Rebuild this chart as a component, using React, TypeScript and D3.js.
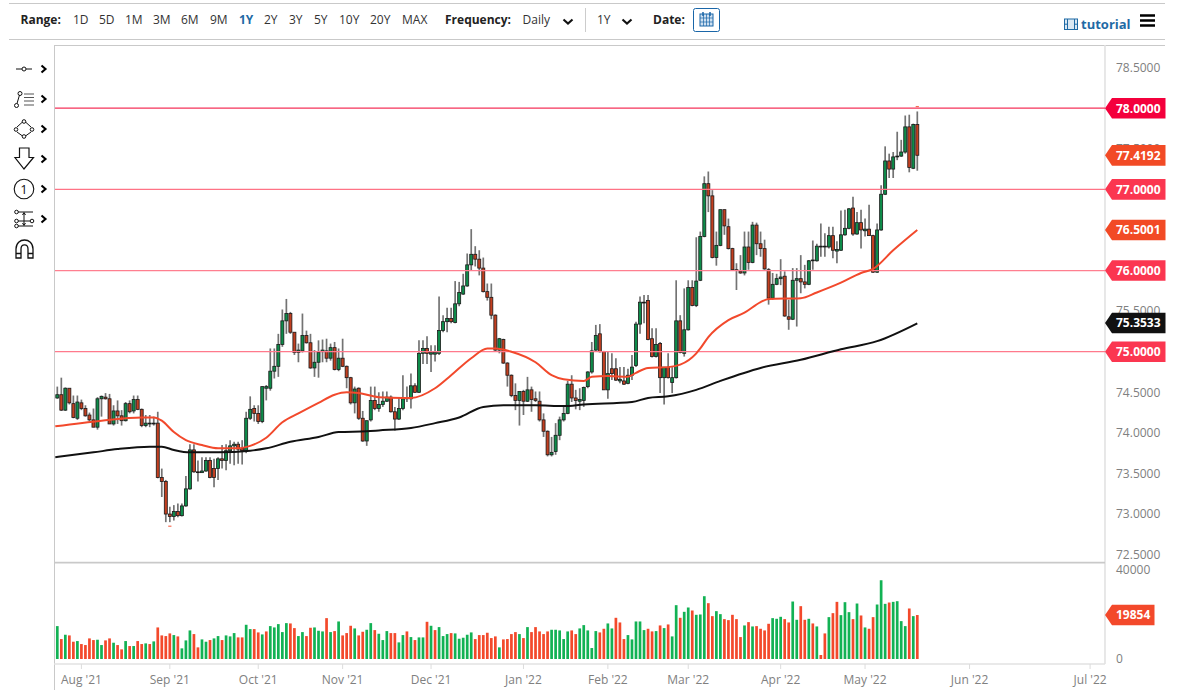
import * as d3 from 'd3'

const opens = [
  74.43,74.47,74.28,74.55,74.36,74.18,74.37,74.30,74.22,74.16,
  74.07,74.42,74.44,74.42,74.11,74.27,74.21,74.15,74.36,74.27,
  74.41,74.29,74.09,74.11,74.11,74.12,73.45,73.40,73.00,72.97,
  73.03,72.98,73.10,73.31,73.79,73.52,73.51,73.53,73.66,73.56,
  73.56,73.68,73.66,73.78,73.84,73.86,73.81,73.77,74.18,74.30,
  74.24,74.14,74.55,74.55,74.76,74.82,75.09,75.38,75.47,75.24,
  74.99,75.01,75.20,75.11,74.80,74.87,75.00,75.01,74.92,75.05,
  74.78,74.92,74.82,74.68,74.37,74.55,74.18,73.90,74.16,74.40,
  74.30,74.35,74.39,74.44,74.26,74.17,74.30,74.42,74.42,74.58,
  74.50,74.98,75.04,74.97,74.97,74.98,75.26,75.37,75.41,75.36,
  75.59,75.71,75.81,76.07,76.20,76.14,76.03,75.74,75.67,75.45,
  75.02,75.15,74.86,74.71,74.46,74.40,74.51,74.39,74.53,74.42,
  74.39,74.16,74.02,73.73,73.77,73.97,74.16,74.24,74.60,74.43,
  74.39,74.40,74.57,74.75,75.02,75.22,75.00,74.53,74.79,74.79,
  74.64,74.64,74.61,74.71,74.83,75.34,75.60,75.63,75.16,74.94,
  75.10,74.68,74.81,74.62,74.68,75.38,74.98,75.27,75.79,75.57,
  75.88,76.42,77.07,76.92,76.16,76.31,76.75,76.54,76.27,76.01,
  75.99,75.97,76.29,76.10,76.56,76.33,76.27,76.01,75.66,75.83,
  75.90,75.93,75.43,75.40,75.88,75.90,75.86,75.83,76.12,76.12,
  76.29,76.29,76.29,76.43,76.24,76.25,76.44,76.52,76.77,76.45,
  76.59,76.49,76.51,76.43,75.98,76.50,76.94,77.35,77.25,77.40,
  77.41,77.46,77.77,77.26,77.80,
]

const closes = [
  74.47,74.28,74.55,74.37,74.19,74.38,74.30,74.21,74.16,74.07,
  74.42,74.45,74.42,74.11,74.27,74.21,74.15,74.36,74.26,74.41,
  74.29,74.09,74.12,74.12,74.12,73.45,73.40,73.00,72.97,73.03,
  72.98,73.10,73.31,73.79,73.52,73.51,73.53,73.66,73.45,73.45,
  73.68,73.66,73.78,73.84,73.86,73.80,73.78,74.18,74.29,74.24,
  74.14,74.57,74.57,74.76,74.82,75.09,75.38,75.47,75.24,74.99,
  75.02,75.20,75.11,74.80,74.87,74.99,75.02,74.92,75.05,74.78,
  74.92,74.82,74.68,74.37,74.54,74.18,73.90,74.15,74.40,74.30,
  74.35,74.39,74.44,74.26,74.17,74.30,74.42,74.43,74.58,74.50,
  74.98,75.04,74.98,74.99,74.99,75.26,75.37,75.41,75.37,75.59,
  75.73,75.81,76.07,76.20,76.14,76.03,75.74,75.67,75.45,75.02,
  75.16,74.86,74.71,74.46,74.40,74.51,74.39,74.53,74.41,74.40,
  74.16,74.02,73.73,73.76,73.97,74.16,74.24,74.60,74.43,74.40,
  74.41,74.56,74.75,75.01,75.20,75.00,74.53,74.73,74.73,74.65,
  74.66,74.60,74.71,74.81,75.34,75.61,75.61,75.15,74.94,75.09,
  74.68,74.81,74.68,74.68,75.38,74.99,75.27,75.79,75.57,75.87,
  76.42,77.07,76.92,76.16,76.31,76.75,76.55,76.27,76.01,76.00,
  75.97,76.29,76.10,76.56,76.33,76.27,76.02,75.66,75.83,75.90,
  75.92,75.44,75.40,75.88,75.90,75.86,75.83,76.12,76.13,76.30,
  76.30,76.30,76.43,76.25,76.26,76.44,76.52,76.76,76.45,76.59,
  76.50,76.51,76.43,75.98,76.50,76.94,77.35,77.25,77.40,77.41,
  77.46,77.77,77.27,77.80,77.42,
]

const highs = [
  74.57,74.68,74.56,74.55,74.46,74.46,74.41,74.34,74.25,74.30,
  74.44,74.46,74.49,74.48,74.34,74.40,74.28,74.38,74.40,74.46,
  74.46,74.30,74.22,74.22,74.20,74.26,73.56,73.42,73.09,73.11,
  73.13,73.13,73.47,73.86,73.86,73.66,73.70,73.70,73.70,73.68,
  73.70,73.85,73.86,73.91,73.89,73.89,73.91,74.26,74.45,74.34,
  74.34,74.57,74.59,75.04,75.04,75.22,75.52,75.65,75.49,75.24,
  75.10,75.47,75.26,75.22,75.02,75.14,75.15,75.16,75.10,75.12,
  75.04,75.16,74.83,74.69,74.57,74.56,74.27,74.15,74.57,74.57,
  74.50,74.51,74.51,74.46,74.32,74.44,74.71,74.57,74.73,74.61,
  75.14,75.14,75.19,75.08,75.08,75.68,75.45,75.54,75.54,75.87,
  75.86,75.96,76.21,76.51,76.30,76.25,76.16,75.84,75.84,75.46,
  75.17,75.16,74.87,74.72,74.61,74.51,74.53,74.69,74.57,74.51,
  74.51,74.24,74.03,73.95,74.12,74.20,74.34,74.64,74.71,74.53,
  74.55,74.57,74.76,75.12,75.33,75.34,75.01,75.00,74.98,74.92,
  74.81,74.81,74.79,74.96,75.37,75.68,75.70,75.70,75.29,75.29,
  75.12,74.81,74.98,74.81,75.88,75.45,75.78,75.88,75.88,76.41,
  76.48,77.16,77.22,76.99,76.48,76.75,76.75,76.64,76.28,76.09,
  76.19,76.48,76.48,76.60,76.59,76.48,76.38,76.03,75.97,75.96,
  76.14,75.99,75.64,76.03,76.03,76.19,76.07,76.13,76.37,76.33,
  76.58,76.46,76.54,76.54,76.36,76.74,76.75,76.77,76.91,76.72,
  76.75,76.64,76.81,76.44,76.58,77.05,77.53,77.44,77.46,77.71,
  77.61,77.91,77.92,77.81,77.96,
]

const lows = [
  74.42,74.27,74.27,74.35,74.18,74.16,74.28,74.20,74.14,74.07,
  74.04,74.20,74.41,74.11,74.09,74.11,74.09,74.14,74.24,74.24,
  74.28,74.07,74.07,74.07,74.09,73.44,73.21,72.90,72.90,72.92,
  72.96,72.97,73.09,73.30,73.51,73.40,73.51,73.52,73.44,73.33,
  73.42,73.56,73.54,73.62,73.60,73.62,73.61,73.75,74.16,74.14,
  74.11,74.12,74.40,74.52,74.67,74.69,75.06,75.22,75.22,74.96,
  74.87,74.99,75.10,74.79,74.69,74.68,74.87,74.87,74.89,74.77,
  74.76,74.81,74.55,74.35,74.24,74.16,73.89,73.84,74.14,74.28,
  74.26,74.32,74.38,74.25,74.03,74.16,74.28,74.38,74.30,74.49,
  74.49,74.85,74.85,74.75,74.88,74.96,75.24,75.24,75.35,75.35,
  75.56,75.70,75.80,76.00,76.05,75.94,75.73,75.63,75.40,75.00,
  74.98,74.85,74.57,74.44,74.28,74.09,74.22,74.38,74.26,74.38,
  74.14,73.95,73.71,73.71,73.73,73.91,74.14,74.23,74.38,74.29,
  74.28,74.32,74.55,74.73,75.01,74.99,74.53,74.42,74.65,74.64,
  74.61,74.59,74.60,74.65,74.81,75.22,75.35,75.14,74.93,74.93,
  74.49,74.35,74.67,74.49,74.67,74.98,74.94,75.26,75.56,75.55,
  75.87,76.41,76.72,76.15,76.06,76.30,76.44,76.26,76.01,75.76,
  75.96,75.94,76.01,76.09,76.19,76.17,76.01,75.58,75.64,75.82,
  75.82,75.43,75.27,75.39,75.31,75.72,75.78,75.82,76.01,76.11,
  76.17,76.17,76.27,76.15,76.09,76.24,76.43,76.51,76.43,76.44,
  76.27,76.42,76.43,75.97,75.97,76.49,76.93,77.14,77.14,77.36,
  77.40,77.44,77.21,77.25,77.23,
]

const volumes = [
  14850,9000,10950,10650,7800,8100,6750,6300,9300,8550,
  8700,6300,8400,9300,7350,6300,4350,8100,5850,5850,
  8100,6750,7050,6750,7950,14250,10650,10350,11550,10800,
  10200,4800,8400,12900,11250,5250,8850,7800,8550,9300,
  10350,8550,10650,10200,11700,9750,9750,15450,13500,13500,
  12000,11100,12450,14850,14250,15750,12150,16200,16050,13950,
  10350,12150,10350,14100,14250,12750,12450,18450,12150,12600,
  16950,10650,11700,15000,13800,10650,12300,13200,16200,13050,
  11400,8550,12600,11700,11700,7500,10800,12450,9900,8550,
  9750,9750,16800,15000,13050,14400,10350,11250,11700,11550,
  9150,9600,10950,12000,9000,10800,10800,11850,9450,10200,
  5250,8850,9000,11250,12150,11250,9450,14400,12150,14400,
  12450,11250,12450,13200,13200,12900,9000,12450,12900,11250,
  13800,15300,12900,4950,12600,12000,13650,16050,13800,18600,
  16500,9000,10800,8850,16950,16950,13050,13650,12450,12600,
  15150,13950,15600,10200,24300,18600,21300,23250,21900,19950,
  20100,28350,25200,19350,21600,20250,18000,17550,19950,18000,
  9900,15150,16650,14700,14850,13650,12900,15900,18450,18150,
  19050,18000,16500,25950,17700,23850,17700,18150,16050,14700,
  1800,11550,18900,20700,25800,19800,25650,21150,18000,25050,
  19650,14250,13650,18900,24600,35550,24900,25500,25800,26100,
  17100,14850,22800,19350,19854,
]

// g = green bar, r = red bar, ten days per row
const volumeDirs = [
  'grgrrgrrrr','ggrrgrrgrg','rrgrgrrrrg','rgggrrggrg','grgggrrggr',
  'rgrgggggrr','ggrrgggrgr','grrrgrrggr','gggrrggrgr','ggrgrgggrg',
  'ggggrrrrrr','grrrrgrgrr','rrrgggggrr','gggggrrggr','rrgggggrrg',
  'rgrggrggrg','ggrrggrrrr','rgrgrrrrgg','grrggrrgrg','rrgrrgggrg',
  'rgrrgggrgg','ggrgr',
].join('').split('')

// 50 and 200 day averages, read at the turning points of each line
const ma50Index = [-0.5,11,21,24,26,29,32,36,40,45,48,52,56,60,65,69,72,75,80,86,88,94,98,103,107,109,113,119,123,126,131,133,137,142,144,147,152,155,159,160,162,167,171,175,177,185,189,195,200,203,208,214]
const ma50Values = [74.08,74.15,74.19,74.19,74.15,74.01,73.91,73.85,73.81,73.81,73.84,73.94,74.13,74.24,74.37,74.47,74.50,74.49,74.44,74.43,74.43,74.55,74.71,74.92,75.04,75.04,75.00,74.87,74.71,74.66,74.64,74.69,74.70,74.69,74.74,74.80,74.81,74.84,74.98,75.04,75.18,75.39,75.48,75.61,75.65,75.66,75.73,75.85,75.97,76.02,76.25,76.50]
const ma200Index = [-0.5,9,15,23,26,29,33,40,48,52,58,65,70,77,80,88,94,100,106,111,119,126,131,143,147,152,159,165,175,185,195,204,214]
const ma200Values = [73.70,73.76,73.80,73.83,73.83,73.79,73.76,73.76,73.78,73.81,73.89,73.95,74.01,74.02,74.03,74.06,74.12,74.19,74.32,74.34,74.34,74.33,74.35,74.38,74.43,74.45,74.53,74.64,74.80,74.90,75.03,75.13,75.35]

const priceTicks = [72.5,73,73.5,74,74.5,75,75.5,76,76.5,77,77.5,78,78.5]
const volumeTicks = [0,40000]
const monthLabels = ["Aug '21","Sep '21","Oct '21","Nov '21","Dec '21","Jan '22","Feb '22","Mar '22","Apr '22","May '22","Jun '22","Jul '22"]
const monthIndex = [6,28,50,71,93,116,137,157,180,201,227,257]

const levels = [78,77,76,75]
const levelColors = ['#f5335a','#ff7386','#ff7f90','#ff7a8c']
const tagValues = [78,77.4192,77,76.5001,76,75.3533,75]
const tagLabels = ['78.0000','77.4192','77.0000','76.5001','76.0000','75.3533','75.0000']
const tagColors = ['#f4003c','#f24a25','#fb3650','#f24a25','#fb3650','#111111','#fb3650']
const lastVolume = 19854

// stray marks left by the source chart below Sep and above the last candle
const markIndex = [28,214]
const markValues = [72.85,78.02]

const rangeLabels = ['1D','5D','1M','3M','6M','9M','1Y','2Y','3Y','5Y','10Y','20Y','MAX']
const rangeX = [73,99,125,153,181,210,239,264,289,314,339,370,402]

const FONT = '"Open Sans", "Noto Sans", sans-serif'
const UP = '#0e8c4a'
const DOWN = '#c23f20'
const VOL_UP = '#12b254'
const VOL_DOWN = '#f3492b'
const GRID = '#c9c9c9'

const x = d3.scaleLinear().domain([0, 214]).range([57.3, 917.3])
const y = d3.scaleLinear().domain([75, 78]).range([351.7, 108.2])
const yVol = d3.scaleLinear().domain([0, 40000]).range([659, 570.4])

const lineFor = (idx: number[], values: number[]) =>
  d3.line<number>()
    .x((_, i) => x(idx[i]))
    .y(d => y(d))
    .curve(d3.curveMonotoneX)(values) || ''

function Chevron({ cx, cy }: { cx: number; cy: number }) {
  return (
    <polyline
      points={`${cx - 2.5},${cy - 3.5} ${cx + 1.5},${cy} ${cx - 2.5},${cy + 3.5}`}
      fill="none"
      stroke="#000"
      strokeWidth={2.1}
    />
  )
}

function Down({ cx, cy }: { cx: number; cy: number }) {
  return (
    <polyline
      points={`${cx - 4.5},${cy - 2} ${cx},${cy + 2} ${cx + 4.5},${cy - 2}`}
      fill="none"
      stroke="#111"
      strokeWidth={2.1}
    />
  )
}

function Toolbar() {
  return (
    <g fontFamily={FONT} fontSize={12} fill="#333">
      <line x1={9} x2={1165} y1={3.5} y2={3.5} stroke={GRID} />
      <line x1={9} x2={1165} y1={39.5} y2={39.5} stroke={GRID} />
      <text x={20.5} y={24} fontWeight={700} fill="#222">Range:</text>
      {rangeLabels.map((d, i) => (
        <text
          key={d}
          x={rangeX[i]}
          y={24}
          fontWeight={d === '1Y' ? 700 : 400}
          fill={d === '1Y' ? '#1f6aa5' : '#333'}
        >{d}</text>
      ))}
      <text x={445} y={24} fontWeight={700} fill="#222">Frequency:</text>
      <text x={522.5} y={24}>Daily</text>
      <Down cx={568} cy={21.5} />
      <line x1={585.5} x2={585.5} y1={8} y2={32} stroke="#ccc" />
      <text x={597} y={24}>1Y</text>
      <Down cx={627} cy={21.5} />
      <text x={653} y={24} fontWeight={700} fill="#222">Date:</text>
      <rect x={693.5} y={8.5} width={26} height={23} rx={2} fill="#fff" stroke="#1a66a8" />
      <g stroke="#1a66a8" fill="none">
        <rect x={700} y={14} width={13} height={12} fill="#cfe0f0" />
        <path d="M700 18H713M700 22H713M703.5 14V26M706.5 14V26M709.5 14V26" strokeWidth={0.7} />
        <path d="M703 12V16M710 12V16" strokeWidth={1.5} />
      </g>
      <g stroke="#1f6aa5" fill="#dbe8f3" strokeWidth={1}>
        <rect x={1064.5} y={19} width={13} height={10.5} />
        <path d="M1067.5 19V29.5M1074.5 19V29.5M1064.5 24.2H1067.5M1074.5 24.2H1077.5" fill="none" />
      </g>
      <text x={1081} y={29} fontWeight={700} fontSize={13} fill="#1f6aa5">tutorial</text>
      <path d="M1140 15.5H1155M1140 20.5H1155M1140 25.5H1155" stroke="#000" strokeWidth={2.4} />
    </g>
  )
}

function DrawingTools() {
  return (
    <g fill="none" stroke="#111" strokeWidth={1}>
      <path d="M16 69H22M26 69H32" />
      <circle cx={24} cy={69} r={2} />
      <Chevron cx={44} cy={69} />

      <path d="M17 103.5L19.5 95" />
      <circle cx={16.5} cy={105.5} r={2} />
      <circle cx={20} cy={93.5} r={2} />
      <path d="M24 94H34M24 97.5H34M24 101H34M24 105H34" stroke="#555" strokeWidth={1.2} />
      <Chevron cx={44} cy={99} />

      <path d="M22.5 122L17 127M17 132L22.5 136M25.5 136L31 132M31 127L25.5 122" />
      <circle cx={24} cy={121.5} r={1.8} />
      <circle cx={16} cy={129.5} r={1.8} />
      <circle cx={32} cy={129.5} r={1.8} />
      <circle cx={24} cy={136.5} r={1.8} />
      <Chevron cx={44} cy={129} />

      <path d="M19.5 148H29V157.5H33.5L24 169L15 157.5H19.5Z" strokeWidth={1.2} />
      <Chevron cx={44} cy={159} />

      <circle cx={24} cy={189} r={9.8} strokeWidth={1.1} />
      <text x={24} y={193.5} textAnchor="middle" fontFamily={FONT} fontSize={13} fill="#111" stroke="none">1</text>
      <Chevron cx={44} cy={189} />

      <path d="M18 212H33M18 226H33M18 221H30M24 213V225" />
      <path d="M22.5 215L24 212.5L25.5 215M22.5 223L24 225.5L25.5 223" />
      <circle cx={16.5} cy={212} r={1.8} />
      <circle cx={16.5} cy={221} r={1.8} />
      <circle cx={16.5} cy={226} r={1.8} />
      <circle cx={32} cy={221} r={1.8} />
      <Chevron cx={44} cy={219} />

      <path d="M16 258V249C16 237 33 237 33 249V258H28V249C28 243.5 21 243.5 21 249V258Z" strokeWidth={1.3} />
      <path d="M16 253.5H21M28 253.5H33" strokeWidth={1.3} />
    </g>
  )
}

export default function App() {
  return (
    <svg
      width={1178}
      height={700}
      style={{ position: 'absolute', left: 0, top: 0, background: '#fff' }}
    >
      <Toolbar />
      <DrawingTools />

      {/* frame */}
      <line x1={54} x2={1165} y1={45.5} y2={45.5} stroke={GRID} />
      <line x1={54.5} x2={54.5} y1={45} y2={690} stroke={GRID} />
      <line x1={1105} x2={1105} y1={45} y2={664} stroke="#e2e2e2" strokeWidth={1.6} />
      <line x1={54} x2={1105} y1={562.7} y2={562.7} stroke={GRID} strokeWidth={1.8} />
      <line x1={54} x2={1105} y1={664} y2={664} stroke="#e2e2e2" strokeWidth={1.6} />

      {/* candles */}
      {opens.map((o, i) => {
        const c = closes[i]
        const top = y(Math.max(o, c))
        const bottom = y(Math.min(o, c))
        return (
          <g key={i}>
            <line x1={x(i)} x2={x(i)} y1={y(highs[i])} y2={y(lows[i])} stroke="#444" strokeOpacity={0.75} strokeWidth={1.7} />
            <rect
              x={x(i) - 1.5}
              y={top}
              width={3}
              height={Math.max(bottom - top, 0.6)}
              fill={c >= o ? UP : DOWN}
              stroke="#1a1a1a"
              strokeWidth={0.8}
            />
          </g>
        )
      })}
      {markIndex.map((m, i) => (
        <rect key={m} x={x(m) - 1.6} y={y(markValues[i]) - 0.6} width={3.2} height={1.2} fill={VOL_DOWN} opacity={0.8} />
      ))}

      {/* support and resistance levels */}
      {levels.map((l, i) => (
        <line key={l} x1={55} x2={1105} y1={y(l)} y2={y(l)} stroke={levelColors[i]} strokeWidth={1.3} />
      ))}

      {/* moving averages */}
      <path d={lineFor(ma200Index, ma200Values)} fill="none" stroke="#111" strokeWidth={2} />
      <path d={lineFor(ma50Index, ma50Values)} fill="none" stroke="#f2492c" strokeWidth={2} />

      {/* volume */}
      {volumes.map((v, i) => (
        <rect
          key={i}
          x={x(i) - 1.35}
          y={yVol(v)}
          width={2.7}
          height={yVol(0) - yVol(v)}
          fill={volumeDirs[i] === 'g' ? VOL_UP : VOL_DOWN}
        />
      ))}

      {/* axes */}
      <g fontFamily={FONT} fontSize={12} fill="#808080">
        {priceTicks.map(t => (
          <text key={t} x={1116} y={y(t) + 4.3}>{d3.format('.4f')(t)}</text>
        ))}
        {volumeTicks.map(t => (
          <text key={t} x={1116} y={yVol(t) + 3.8}>{t}</text>
        ))}
        {monthLabels.map((m, i) => (
          <g key={m}>
            <line x1={x(monthIndex[i])} x2={x(monthIndex[i])} y1={664} y2={669} stroke="#dcdcdc" />
            <text x={x(monthIndex[i])} y={683.5} textAnchor="middle">{m}</text>
          </g>
        ))}
      </g>

      {/* last value tags */}
      <g fontFamily={FONT} fontSize={12} fontWeight={700} fill="#fff">
        {tagValues.map((t, i) => {
          const ty = y(t)
          return (
            <g key={t}>
              <path
                d={`M1105 ${ty}L1112 ${ty - 10.3}H1165.5V${ty + 10.3}H1112Z`}
                fill={tagColors[i]}
              />
              <text x={1116} y={ty + 4.3}>{tagLabels[i]}</text>
            </g>
          )
        })}
        <path
          d={`M1105 ${yVol(lastVolume)}L1112 ${yVol(lastVolume) - 10.3}H1154.5V${yVol(lastVolume) + 10.3}H1112Z`}
          fill={VOL_DOWN}
        />
        <text x={1116} y={yVol(lastVolume) + 4.3}>{lastVolume}</text>
      </g>
    </svg>
  )
}
